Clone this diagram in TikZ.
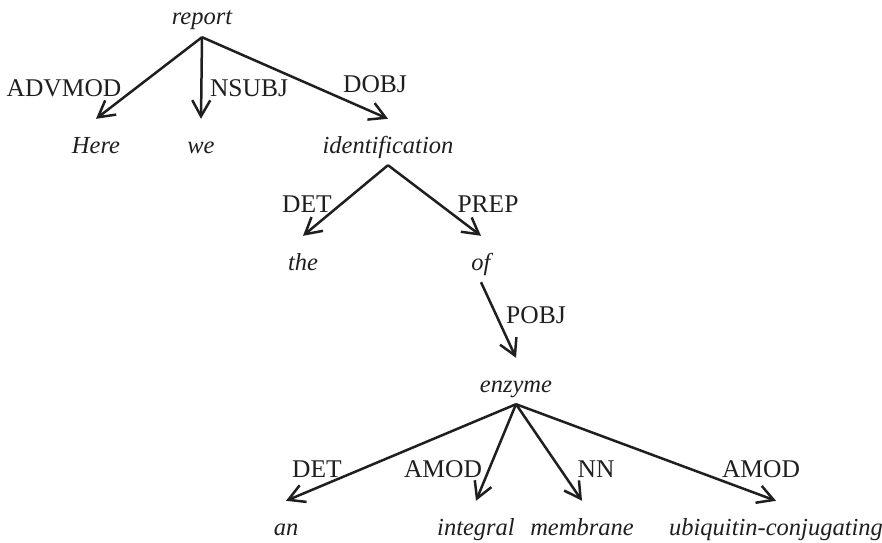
\documentclass[tikz,border=0pt]{standalone}
\usepackage{fontspec}
\setmainfont{Liberation Serif}
\usetikzlibrary{arrows.meta}
\begin{document}
\begin{tikzpicture}[x=1pt,y=1pt,
  word/.style={font=\fontsize{24.5}{28}\selectfont\itshape, inner sep=0pt, text height=34pt, text depth=12pt, anchor=base, text=black!88},
  rel/.style={font=\fontsize{25.5}{28}\selectfont, inner sep=0pt, anchor=base, text=black!88},
  dep/.style={draw=black!88, line width=2.5pt, -{Straight Barb[length=16pt,width=18pt,line width=2.5pt]}}]
\useasboundingbox (0,0) rectangle (882,542);
% words (x, 542 - baseline)
\node[word] (report) at (202,517) {report};
\node[word] (here) at (96,389) {Here};
\node[word] (we) at (201,389) {we};
\node[word] (ident) at (388,389) {identification};
\node[word] (the) at (303,272) {the};
\node[word] (of) at (481,272) {of};
\node[word] (enzyme) at (516,150) {enzyme};
\node[word] (an) at (286,7) {an};
\node[word] (integral) at (476,7) {integral};
\node[word] (membrane) at (582,7) {membrane};
\node[word] (ubiq) at (776,7) {ubiquitin-conjugating};
% relation labels
\node[rel] (l1) at (64,445) {ADVMOD};
\node[rel] (l2) at (249,445) {NSUBJ};
\node[rel] (l3) at (375,449) {DOBJ};
\node[rel] (l4) at (307,330) {DET};
\node[rel] (l5) at (488,330) {PREP};
\node[rel] (l6) at (536,219) {POBJ};
\node[rel] (l7) at (317,65) {DET};
\node[rel] (l8) at (443,65) {AMOD};
\node[rel] (l9) at (596,65) {NN};
\node[rel] (l10) at (761,65) {AMOD};
% dependencies
\draw[dep] (report.south) -- (here.north);
\draw[dep] (report.south) -- (we.north);
\draw[dep] (report.south) -- (ident.north);
\draw[dep] (ident.south) -- (the.north);
\draw[dep] (ident.south) -- (of.north);
\draw[dep] (of.south) -- (enzyme.north);
\draw[dep] (enzyme.south) -- (an.north);
\draw[dep] (enzyme.south) -- (integral.north);
\draw[dep] (enzyme.south) -- (membrane.north);
\draw[dep] (enzyme.south) -- (ubiq.north);
\end{tikzpicture}
\end{document}
